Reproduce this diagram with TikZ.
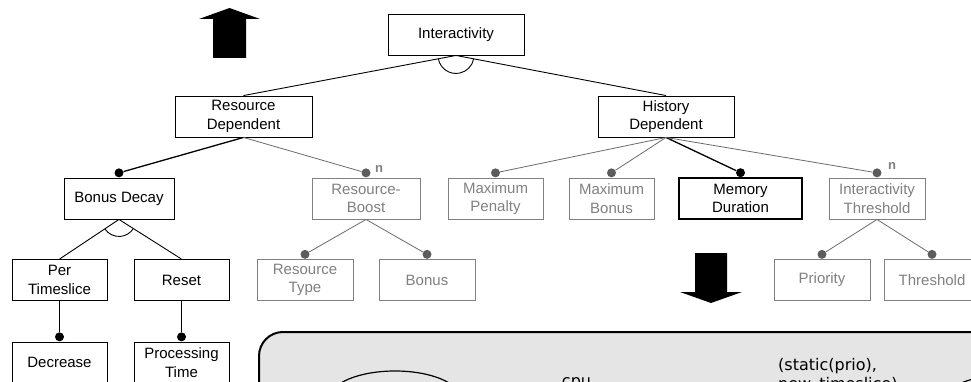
\documentclass[tikz,border=0pt]{standalone}
\usepackage{fontspec}
\setmainfont{Liberation Sans}
\newfontfamily\dejavu{DejaVu Sans}
\definecolor{optgray}{gray}{0.5}
\definecolor{optline}{gray}{0.42}
\definecolor{optdot}{gray}{0.36}
\definecolor{panel}{gray}{0.9}
\begin{document}
\begin{tikzpicture}[x=1pt,y=-1pt,
  feat/.style={draw, rectangle, line width=0.9pt, minimum height=41pt, inner sep=0pt,
    align=center, font=\fontsize{15}{18.5}\selectfont},
  optfeat/.style={feat, draw=optgray, text=optgray},
  mand/.style={circle, fill=black, minimum size=9pt, inner sep=0pt, anchor=south},
  opt/.style={mand, fill=optdot},
  edge/.style={line width=0.9pt},
  strongedge/.style={line width=1.3pt},
  optedge/.style={line width=0.8pt, draw=optline},
  card/.style={text=optgray, font=\fontsize{13}{13}\selectfont\bfseries, inner sep=0pt},
  bigarrow/.style={fill=black},
  codetext/.style={font=\dejavu\fontsize{16}{19}\selectfont, inner sep=0pt},
]
\clip (0,0) rectangle (971,382);

% feature boxes
\node[feat, minimum width=136pt] (inter) at (456,34.5) {Interactivity};
\node[feat, minimum width=137pt] (rd) at (243.5,116.5) {Resource\\Dependent};
\node[feat, minimum width=136pt] (hd) at (666,116.5) {History\\Dependent};
\node[feat, minimum width=110pt] (bd) at (119,198.5) {Bonus Decay};
\node[optfeat, minimum width=108pt] (rb) at (366,198.5) {Resource-\\Boost};
\node[optfeat, minimum width=95pt] (mp) at (495.5,198.5) {Maximum\\Penalty};
\node[optfeat, minimum width=85pt] (mb) at (611.5,198.5) {Maximum\\Bonus};
\node[feat, line width=1.2pt, minimum width=123pt] (md) at (740.5,198.5) {Memory\\Duration};
\node[optfeat, minimum width=96pt] (it) at (877,198.5) {Interactivity\\Threshold};
\node[feat, minimum width=95pt] (pt) at (59.5,280) {Per\\Timeslice};
\node[feat, minimum width=95pt] (rs) at (181.5,280) {Reset};
\node[optfeat, minimum width=96pt] (rt) at (305,280) {Resource\\Type};
\node[optfeat, minimum width=96pt] (bo) at (427,280) {Bonus};
\node[optfeat, minimum width=96pt] (pr) at (822,280) {Priority};
\node[optfeat, minimum width=96pt] (th) at (932,280) {Threshold};
\node[feat, minimum width=95pt] (de) at (59.5,362.5) {Decrease};
\node[feat, minimum width=95pt] (ptm) at (181.5,362.5) {Processing\\Time};

% mandatory / optional markers
\node[mand] (dbd) at (bd.north) {};
\node[opt] (drb) at (rb.north) {};
\node[opt] (dmp) at (mp.north) {};
\node[opt] (dmb) at (mb.north) {};
\node[mand] (dmd) at (md.north) {};
\node[opt] (dit) at (it.north) {};
\node[opt] (drt) at (rt.north) {};
\node[opt] (dbo) at (bo.north) {};
\node[opt] (dpr) at (pr.north) {};
\node[opt] (dth) at (th.north) {};
\node[mand] (dde) at (de.north) {};
\node[mand] (dptm) at (ptm.north) {};

% cardinalities
\node[card] (nrb) at (379,169) {n};
\node[card] (nit) at (892,166) {n};

% connectors
\draw[edge] (inter.south) -- (rd.north);
\draw[edge] (inter.south) -- (hd.north);
\draw[strongedge] (rd.south) -- (dbd);
\draw[optedge] (rd.south) -- (drb);
\draw[optedge] (hd.south) -- (dmp);
\draw[optedge] (hd.south) -- (dmb);
\draw[strongedge] (hd.south) -- (dmd);
\draw[optedge] (hd.south) -- (dit);
\draw[edge] (bd.south) -- (pt.north);
\draw[edge] (bd.south) -- (rs.north);
\draw[optedge] (rb.south) -- (drt);
\draw[optedge] (rb.south) -- (dbo);
\draw[optedge] (it.south) -- (dpr);
\draw[optedge] (it.south) -- (dth);
\draw[strongedge] (pt.south) -- (dde);
\draw[strongedge] (rs.south) -- (dptm);

% alternative-group arcs
\draw[edge] ([shift={(190.9:18pt)}]inter.south) arc[start angle=190.9, end angle=349, radius=18pt];
\draw[edge] ([shift={(214.2:17pt)}]bd.south) arc[start angle=214.2, end angle=327.1, radius=17pt];

% block arrows
\fill[bigarrow] (199,19) -- (229.5,8) -- (260,19) -- (246,19) -- (246,58) -- (213,58) -- (213,19) -- cycle;
\fill[bigarrow] (695,253) -- (727,253) -- (727,292) -- (742,292) -- (711,303) -- (680,292) -- (695,292) -- cycle;

% state panel
\draw[line width=2pt, fill=panel, rounded corners=24pt] (259,332) rectangle (1010,460);
\draw[line width=1.2pt] (395,398) ellipse [x radius=65pt, y radius=27pt];
\draw[line width=1.2pt] (1000,400) ellipse [x radius=55pt, y radius=24pt];
\node[codetext, anchor=base] (cpu) at (576.5,386) {cpu};
\node[codetext, anchor=base west] (lab1) at (778,370) {(static(prio),};
\node[codetext, anchor=base west] (lab2) at (778,389) {new\_timeslice)};
\end{tikzpicture}
\end{document}
